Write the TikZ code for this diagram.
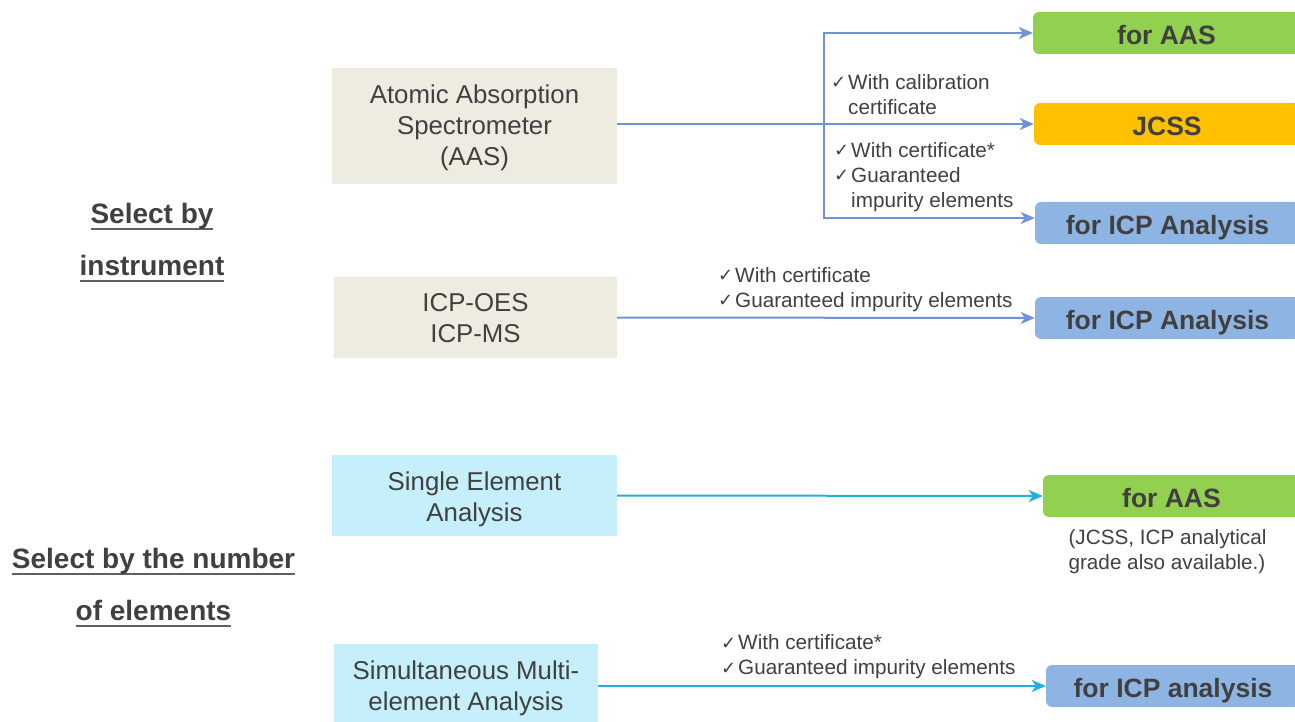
\documentclass[tikz,border=0pt]{standalone}
\usepackage{fontspec}
\setmainfont{Liberation Sans}
\newfontfamily\chkfont{DejaVu Sans}
\usetikzlibrary{arrows.meta}
\definecolor{txt}{HTML}{404040}
\definecolor{uln}{HTML}{606060}
\definecolor{beige}{HTML}{EEECE1}
\definecolor{lblue}{HTML}{C6EFFC}
\definecolor{cgreen}{HTML}{92D050}
\definecolor{corange}{HTML}{FFC000}
\definecolor{cblue}{HTML}{8EB4E3}
\definecolor{arrblue}{HTML}{7092D6}
\definecolor{arrcyan}{HTML}{1FB0E0}
\newcommand{\ck}{\makebox[17pt][l]{\chkfont\fontsize{18}{20}\selectfont\raisebox{0.5pt}{✓}}}
\newsavebox\hulbox
\newcommand{\hul}[1]{\sbox\hulbox{#1}\rlap{\color{uln}\rule[-6.5pt]{\wd\hulbox}{2pt}}\usebox\hulbox}
\begin{document}
\begin{tikzpicture}[x=1pt,y=-1pt,
  src/.style={fill=#1, draw=none, text=txt, align=center,
    font=\fontsize{25.8}{31}\selectfont, inner sep=0pt, text depth=0pt},
  dst/.style={fill=#1, draw=none, rounded corners=6pt, text=txt,
    font=\bfseries\fontsize{26.5}{30}\selectfont, minimum height=42pt, inner sep=0pt,
    text height=23pt, text depth=0pt},
  lab/.style={text=txt, align=left, font=\fontsize{20.7}{25}\selectfont, inner sep=0pt},
  head/.style={text=txt, align=center, font=\bfseries\fontsize{28}{52}\selectfont, inner sep=0pt},
  arrA/.style={draw=arrblue, line width=2pt, -{Stealth[length=14pt,width=12pt,inset=4pt]}},
  arrC/.style={draw=arrcyan, line width=2pt, -{Stealth[length=14pt,width=12pt,inset=4pt]}}
]
\clip (0,0) rectangle (1295,722);

% left headings
\node[head] (h1) at (152,243) {\hul{Select by}\\\hul{instrument}};
\node[head] (h2) at (153.5,588) {\hul{Select by the number}\\\hul{of elements}};

% source boxes
\node[src=beige, minimum width=285pt, minimum height=116pt, text height=78.4pt] (aas) at (474.5,126)
  {Atomic Absorption\\Spectrometer\\(AAS)};
\node[src=beige, minimum width=283pt, minimum height=81pt, text height=49.4pt] (icpoes) at (475.5,317.5)
  {ICP-OES\\ICP-MS};
\node[src=lblue, minimum width=285pt, minimum height=81pt, text height=51.4pt] (single) at (474.5,495.5)
  {Single Element\\Analysis};
\node[src=lblue, minimum width=264pt, minimum height=78pt, text height=54.4pt] (multi) at (466,683)
  {Simultaneous Multi-\\element Analysis};

% destination boxes
\node[dst=cgreen, minimum width=267pt] (aasR) at (1166.5,33) {for AAS};
\node[dst=corange, minimum width=266pt] (jcss) at (1167,124) {JCSS};
\node[dst=cblue, minimum width=265pt] (icpA) at (1167.5,223) {for ICP Analysis};
\node[dst=cblue, minimum width=265pt] (icpB) at (1167.5,318) {for ICP Analysis};
\node[dst=cgreen, minimum width=257pt] (aasB) at (1171.5,496) {for AAS};
\node[dst=cblue, minimum width=254pt] (icpC) at (1173,686) {for ICP analysis};

% labels
\node[lab, anchor=west] (l1) at (831,94.5) {\ck With calibration\\\hspace*{17pt}certificate};
\node[lab, anchor=west] (l2) at (834,177) {\ck With certificate*\\\ck Guaranteed\\\hspace*{17pt}impurity elements};
\node[lab, anchor=west] (l3) at (718,289.5) {\ck With certificate\\\ck Guaranteed impurity elements};
\node[lab, anchor=west] (l4) at (721,657) {\ck With certificate*\\\ck Guaranteed impurity elements};
\node[lab] (note) at (1167.5,551.5) {(JCSS, ICP analytical\\grade also available.)};

% connectors
\coordinate (j) at (824,124);
\draw[arrA] (aas.east |- jcss.west) -- (jcss.west);
\draw[arrA] (j) |- (aasR.west);
\draw[arrA] (j) |- ([yshift=5pt]icpA.west);
\draw[arrA] (icpoes.east) -- (icpB.west);
\draw[arrC] (single.east) -- (aasB.west);
\draw[arrC] (multi.east |- icpC.west) -- (icpC.west);
\end{tikzpicture}
\end{document}
